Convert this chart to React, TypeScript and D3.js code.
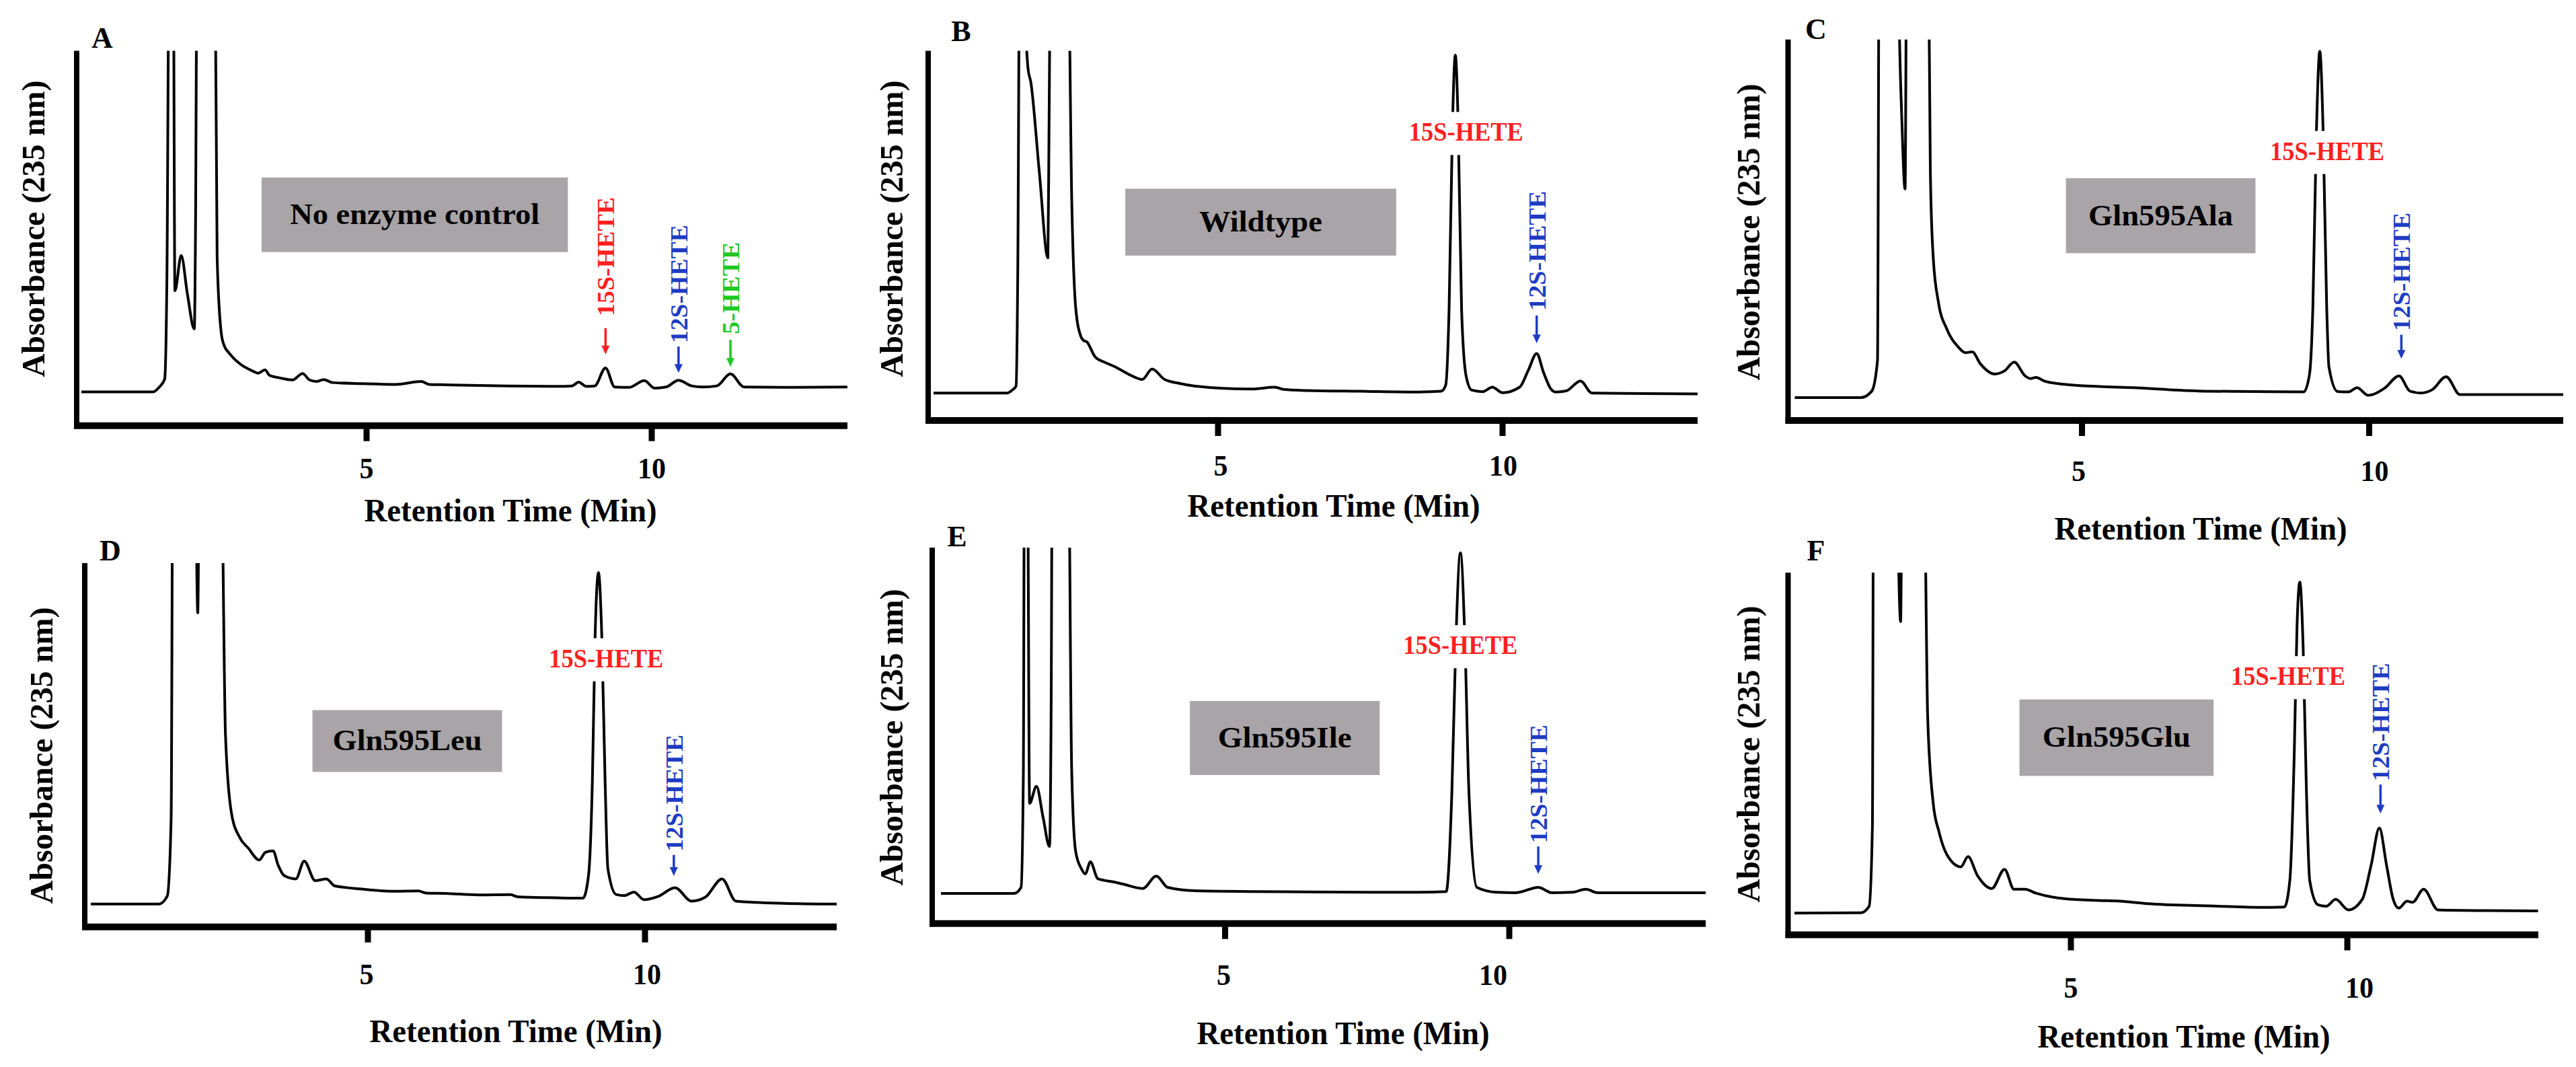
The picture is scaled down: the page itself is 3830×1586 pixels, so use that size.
import React from 'react';
import * as d3 from 'd3';

type Pt = [number, number];

// retention time (min), absorbance (% of axis height; >100 = off scale)
const traceA: Pt[] = [
  [0, 9.0], [1.26, 9.0], [1.36, 10.2], [1.46, 12.4], [1.5, 40], [1.54, 130], [1.61, 130], [1.64, 36],
  [1.75, 45.4], [1.86, 35], [1.98, 25.8], [2.0, 50], [2.03, 130], [2.34, 130], [2.38, 45], [2.45, 25],
  [2.5, 21.5], [2.6, 19.2], [2.78, 16.5], [3.0, 14.6], [3.1, 14.0], [3.22, 14.9], [3.3, 13.4], [3.46, 12.8],
  [3.7, 12.2], [3.88, 13.9], [4.0, 12.2], [4.12, 11.8], [4.25, 12.3], [4.4, 11.5], [4.93, 11.2], [5.5, 11.0],
  [5.96, 11.8], [6.1, 11.0], [6.4, 10.9], [7.5, 10.6], [8.35, 10.5], [8.6, 10.6], [8.72, 11.6], [8.85, 10.5],
  [9.0, 10.6], [9.19, 15.4], [9.35, 10.3], [9.6, 10.2], [9.87, 12.0], [10.05, 10.0], [10.25, 10.3],
  [10.47, 12.1], [10.7, 10.6], [10.9, 10.3], [11.14, 10.6], [11.38, 13.8], [11.62, 10.3], [12.5, 10.2], [13.43, 10.3],
];
const traceB: Pt[] = [
  [0, 7.4], [1.29, 7.4], [1.38, 8.2], [1.45, 9.3], [1.48, 40], [1.515, 130], [1.6, 110], [1.66, 95.2],
  [1.71, 91.5], [1.86, 67], [2.01, 44], [2.03, 80], [2.06, 130], [2.36, 130], [2.43, 58.7], [2.5, 30.2],
  [2.59, 22.7], [2.64, 21.6], [2.69, 21.3], [2.84, 17.2], [3.0, 15.8], [3.18, 14.6], [3.43, 12.5],
  [3.67, 11.1], [3.84, 13.9], [4.06, 11.1], [4.3, 10.1], [4.6, 9.3], [5.58, 8.5], [6.0, 9.0], [6.15, 8.4],
  [6.56, 8.1], [7.5, 7.9], [8.52, 7.7], [8.92, 7.9], [9.0, 9.5], [9.06, 30], [9.12, 80], [9.17, 98.8],
  [9.22, 80], [9.28, 30], [9.36, 12], [9.46, 8.2], [9.65, 7.8], [9.82, 9.0], [10.0, 7.5], [10.3, 9.0],
  [10.45, 13.5], [10.6, 18.1], [10.72, 13], [10.85, 8.5], [10.93, 7.7], [11.12, 8.0], [11.37, 10.7],
  [11.57, 7.4], [12.5, 7.3], [13.43, 7.2],
];
const traceC: Pt[] = [
  [0, 6.0], [1.15, 6.0], [1.34, 7.7], [1.44, 15.8], [1.47, 130], [1.76, 130], [1.85, 85], [1.92, 60.8],
  [1.95, 130], [2.32, 130], [2.36, 65.3], [2.41, 42.8], [2.5, 31.1], [2.65, 23.9], [2.84, 19.4], [2.97, 17.8],
  [3.09, 18.0], [3.23, 14.9], [3.48, 12.2], [3.65, 13], [3.82, 15.3], [4.01, 11.7], [4.1, 11.0], [4.2, 11.3],
  [4.35, 10.3], [4.69, 9.5], [5.3, 8.9], [5.9, 8.6], [6.5, 8.1], [7.12, 7.7], [8.0, 7.6], [8.86, 7.5],
  [8.96, 12], [9.02, 30], [9.08, 75], [9.14, 96.9], [9.2, 75], [9.26, 30], [9.3, 14], [9.45, 7.6],
  [9.64, 7.5], [9.79, 8.6], [9.98, 6.6], [10.27, 8.5], [10.52, 11.7], [10.71, 7.7], [10.9, 7.2], [11.1, 8.1],
  [11.34, 11.5], [11.58, 6.8], [12.5, 6.8], [13.38, 6.8],
];
const traceD: Pt[] = [
  [0, 6.3], [1.23, 6.3], [1.38, 8.5], [1.45, 30], [1.48, 130], [1.88, 130], [1.93, 86.3], [1.96, 130],
  [2.35, 130], [2.43, 52.8], [2.54, 31.1], [2.69, 24.5], [2.84, 21.7], [3.04, 18.4], [3.15, 20.5],
  [3.29, 20.9], [3.38, 17], [3.49, 14.1], [3.7, 13.2], [3.85, 18.1], [4.05, 12.7], [4.25, 13.2], [4.4, 11.3],
  [4.9, 10.4], [5.5, 9.8], [5.91, 9.9], [6.05, 9.3], [6.41, 9.2], [7.0, 8.8], [7.57, 8.9], [7.7, 8.3],
  [8.42, 8.0], [8.88, 7.9], [8.98, 14], [9.05, 40], [9.1, 80], [9.16, 97.4], [9.22, 80], [9.28, 40],
  [9.33, 16], [9.48, 8.9], [9.63, 8.6], [9.8, 9.6], [9.98, 7.5], [10.24, 8.4], [10.54, 10.8], [10.84, 7.1],
  [11.09, 8.2], [11.39, 13.2], [11.64, 7.1], [12.5, 6.5], [13.46, 6.3],
];
const traceE: Pt[] = [
  [0, 8.0], [1.29, 8.0], [1.41, 9.6], [1.45, 40], [1.47, 130], [1.52, 130], [1.56, 32], [1.68, 36.5],
  [1.8, 28], [1.91, 20.5], [1.94, 60], [1.96, 130], [2.24, 130], [2.3, 41.1], [2.37, 19.2], [2.47, 14.6],
  [2.54, 13.2], [2.63, 16.4], [2.76, 11.9], [3.06, 11.0], [3.2, 10.5], [3.55, 9.3], [3.79, 12.6],
  [3.99, 9.6], [4.48, 8.7], [5.5, 8.5], [6.44, 8.4], [8.4, 8.3], [8.89, 8.5], [8.99, 35], [9.06, 75],
  [9.14, 98.6], [9.22, 75], [9.29, 35], [9.43, 9.6], [9.78, 8.3], [10.12, 8.2], [10.51, 9.6], [10.75, 8.2],
  [11.1, 8.3], [11.35, 9.1], [11.55, 8.2], [13.46, 8.2],
];
const traceF: Pt[] = [
  [0, 6.0], [1.2, 6.1], [1.35, 7.9], [1.41, 30], [1.43, 130], [1.83, 130], [1.92, 86.5], [1.95, 130],
  [2.34, 130], [2.41, 60], [2.51, 36.3], [2.61, 28.7], [2.76, 22.1], [3.01, 18.8], [3.14, 21.6],
  [3.31, 16.4], [3.57, 12.8], [3.8, 18.1], [3.97, 12.6], [4.17, 12.6], [4.37, 11.5], [4.88, 10.0],
  [5.5, 9.5], [5.89, 9.3], [6.39, 8.6], [7.5, 8.0], [8.41, 7.6], [8.86, 7.7], [8.96, 15], [9.04, 50],
  [9.09, 85], [9.14, 97.4], [9.2, 80], [9.26, 40], [9.32, 15], [9.47, 8.3], [9.62, 7.9], [9.79, 9.8],
  [10.02, 6.9], [10.27, 9.8], [10.43, 19.2], [10.58, 29.5], [10.71, 19.2], [10.83, 9.8], [10.93, 7.4],
  [11.08, 9.3], [11.18, 9.0], [11.38, 12.6], [11.64, 6.9], [12.5, 6.7], [13.45, 6.6],
];

const panelLetters = ['A', 'B', 'C', 'D', 'E', 'F'];
const sampleNames = ['No enzyme control', 'Wildtype', 'Gln595Ala', 'Gln595Leu', 'Gln595Ile', 'Gln595Glu'];
const traces = [traceA, traceB, traceC, traceD, traceE, traceF];
const xTicks = [5, 10];
const xTitle = 'Retention Time (Min)';
const yTitle = 'Absorbance (235 nm)';

const RED = '#ff1f1f';
const BLUE = '#1e3cc2';
const GREEN = '#20c820';

// horizontal 15S-HETE label (time, absorbance) per panel
const label15S: (Pt | null)[] = [null, [9.36, 78.0], [9.27, 70.7], [9.3, 73.8], [9.14, 74.0], [8.93, 71.4]];

// vertical arrow labels: [time, arrow tip, arrow top, text bottom]
const arrowLabels = [
  [
    { text: '15S-HETE', color: RED, at: [9.19, 19.0, 26.0, 29.2], len: 177 },
    { text: '12S-HETE', color: BLUE, at: [10.47, 14.1, 21.1, 22.0], len: 176 },
    { text: '5-HETE', color: GREEN, at: [11.38, 15.7, 22.9, 24.4], len: 137 },
  ],
  [{ text: '12S-HETE', color: BLUE, at: [10.6, 20.9, 28.4, 29.7], len: 178 }],
  [{ text: '12S-HETE', color: BLUE, at: [10.56, 16.2, 22.5, 23.5], len: 176 }],
  [{ text: '12S-HETE', color: BLUE, at: [10.52, 14.0, 19.8, 20.7], len: 174 }],
  [{ text: '12S-HETE', color: BLUE, at: [10.51, 13.2, 20.5, 21.4], len: 176 }],
  [{ text: '12S-HETE', color: BLUE, at: [10.6, 33.5, 41.5, 42.4], len: 176 }],
];

// sample name boxes: [t0, t1, yTop, yBottom]
const nameBoxes = [
  [3.16, 8.53, 66.2, 46.3],
  [3.37, 8.13, 62.7, 44.6],
  [4.72, 8.02, 63.6, 43.9],
  [4.0, 7.42, 59.6, 42.6],
  [4.38, 7.72, 59.2, 39.5],
  [4.07, 7.58, 65.0, 43.9],
];
const nameLens = [371, 183, 215, 222, 199, 220];

const layout = [
  { left: 114, right: 1260, top: 75.5, bottom: 632.7, x0: 121, ppm: 84.8, tickDy: 63, tickDx: [0, 0], titleX: 759, titleDy: 126, yTx: 50, yTy: 340, lx: 152, ly: 56 },
  { left: 1380, right: 2524, top: 75.5, bottom: 625, x0: 1388, ppm: 84.6, tickDy: 67, tickDx: [4, 1], titleX: 1983, titleDy: 127, yTx: 1326, yTy: 340, lx: 1429, ly: 46 },
  { left: 2658.5, right: 3811, top: 58.7, bottom: 625, x0: 2668.5, ppm: 85.4, tickDy: 75, tickDx: [-5, 8], titleX: 3272, titleDy: 161, yTx: 2600, yTy: 345, lx: 2700, ly: 43 },
  { left: 126, right: 1244, top: 837, bottom: 1377.8, x0: 135, ppm: 82.4, tickDy: 70, tickDx: [-2, 3], titleX: 767, titleDy: 155, yTx: 62, yTy: 1123, lx: 164, ly: 818 },
  { left: 1386, right: 2536, top: 814, bottom: 1372.7, x0: 1399, ppm: 84.5, tickDy: 76, tickDx: [-2, -24], titleX: 1997, titleDy: 163, yTx: 1326, yTy: 1096, lx: 1423, ly: 797 },
  { left: 2658.5, right: 3774, top: 851.3, bottom: 1389.6, x0: 2668, ppm: 82.2, tickDy: 78, tickDx: [0, 18], titleX: 3247, titleDy: 151, yTx: 2600, yTy: 1121, lx: 2700, ly: 818 },
];

const FONT = '"Liberation Serif", "Times New Roman", serif';

function Panel({ i }: { i: number }) {
  const L = layout[i];
  const x = d3.scaleLinear()
    .domain([(L.left - L.x0) / L.ppm, (L.right - L.x0) / L.ppm])
    .range([L.left, L.right]);
  const y = d3.scaleLinear().domain([0, 100]).range([L.bottom, L.top]);
  const line = d3.line<Pt>()
    .x(d => x(d[0]))
    .y(d => y(d[1]))
    .curve(d3.curveMonotoneX);
  const clipId = `clip-${i}`;
  const box = nameBoxes[i];
  const l15 = label15S[i];

  return (
    <g>
      <defs>
        <clipPath id={clipId}>
          <rect x={L.left} y={L.top} width={L.right - L.left} height={L.bottom - L.top} />
        </clipPath>
      </defs>

      {/* sample name box */}
      <rect x={x(box[0])} y={y(box[2])} width={x(box[1]) - x(box[0])} height={y(box[3]) - y(box[2])} fill="#a8a4a7" />
      <text
        x={(x(box[0]) + x(box[1])) / 2}
        y={(y(box[2]) + y(box[3])) / 2 + 14}
        textAnchor="middle"
        fontSize={44}
        fontWeight="bold"
        fontFamily={FONT}
        textLength={nameLens[i]}
        lengthAdjust="spacingAndGlyphs"
      >
        {sampleNames[i]}
      </text>

      {/* trace */}
      <path d={line(traces[i]) || ''} fill="none" stroke="#000" strokeWidth={4} strokeLinejoin="round" clipPath={`url(#${clipId})`} />

      {/* 15S-HETE horizontal label on white backing */}
      {l15 && (
        <g>
          <rect x={x(l15[0]) - 100} y={y(l15[1]) - 30} width={200} height={64} fill="#fff" />
          <text
            x={x(l15[0])}
            y={y(l15[1]) + 13}
            textAnchor="middle"
            fontSize={40}
            fontWeight="bold"
            fontFamily={FONT}
            fill={RED}
            textLength={170}
            lengthAdjust="spacingAndGlyphs"
          >
            15S-HETE
          </text>
        </g>
      )}

      {/* vertical arrow labels */}
      {arrowLabels[i].map((a, k) => {
        const ax = x(a.at[0]);
        const tip = y(a.at[1]);
        const atop = y(a.at[2]);
        const tb = y(a.at[3]);
        return (
          <g key={k}>
            <line x1={ax} x2={ax} y1={atop} y2={tip - 10} stroke={a.color} strokeWidth={3.5} />
            <path d={`M${ax - 6},${tip - 13} L${ax + 6},${tip - 13} L${ax},${tip} Z`} fill={a.color} />
            <text
              transform={`translate(${ax},${tb}) rotate(-90)`}
              dy="0.36em"
              fontSize={36}
              fontWeight="bold"
              fontFamily={FONT}
              fill={a.color}
              textLength={a.len}
              lengthAdjust="spacingAndGlyphs"
            >
              {a.text}
            </text>
          </g>
        );
      })}

      {/* axes */}
      <line x1={L.left} x2={L.left} y1={L.top} y2={L.bottom + 4.5} stroke="#000" strokeWidth={8} />
      <line x1={L.left - 4} x2={L.right} y1={L.bottom} y2={L.bottom} stroke="#000" strokeWidth={10} />
      {xTicks.map((t, k) => (
        <g key={t}>
          <line x1={x(t)} x2={x(t)} y1={L.bottom} y2={L.bottom + 23} stroke="#000" strokeWidth={9} />
          <text
            x={x(t) + L.tickDx[k]}
            y={L.bottom + L.tickDy + 15}
            textAnchor="middle"
            fontSize={44}
            fontWeight="bold"
            fontFamily={FONT}
            textLength={String(t).length * 21}
            lengthAdjust="spacingAndGlyphs"
          >
            {t}
          </text>
        </g>
      ))}
      <text
        x={L.titleX}
        y={L.bottom + L.titleDy + 16}
        textAnchor="middle"
        fontSize={48}
        fontWeight="bold"
        fontFamily={FONT}
        textLength={435}
        lengthAdjust="spacingAndGlyphs"
      >
        {xTitle}
      </text>
      <text
        transform={`translate(${L.yTx},${L.yTy}) rotate(-90)`}
        dy="0.33em"
        textAnchor="middle"
        fontSize={48}
        fontWeight="bold"
        fontFamily={FONT}
        textLength={441}
        lengthAdjust="spacingAndGlyphs"
      >
        {yTitle}
      </text>
      <text x={L.lx} y={L.ly + 15} textAnchor="middle" fontSize={44} fontWeight="bold" fontFamily={FONT}>
        {panelLetters[i]}
      </text>
    </g>
  );
}

export default function App() {
  return (
    <svg
      width={3830}
      height={1586}
      style={{ position: 'absolute', left: 0, top: 0, background: '#fff' }}
    >
      <rect width={3830} height={1586} fill="#fff" />
      {layout.map((_, i) => <Panel key={i} i={i} />)}
    </svg>
  );
}
